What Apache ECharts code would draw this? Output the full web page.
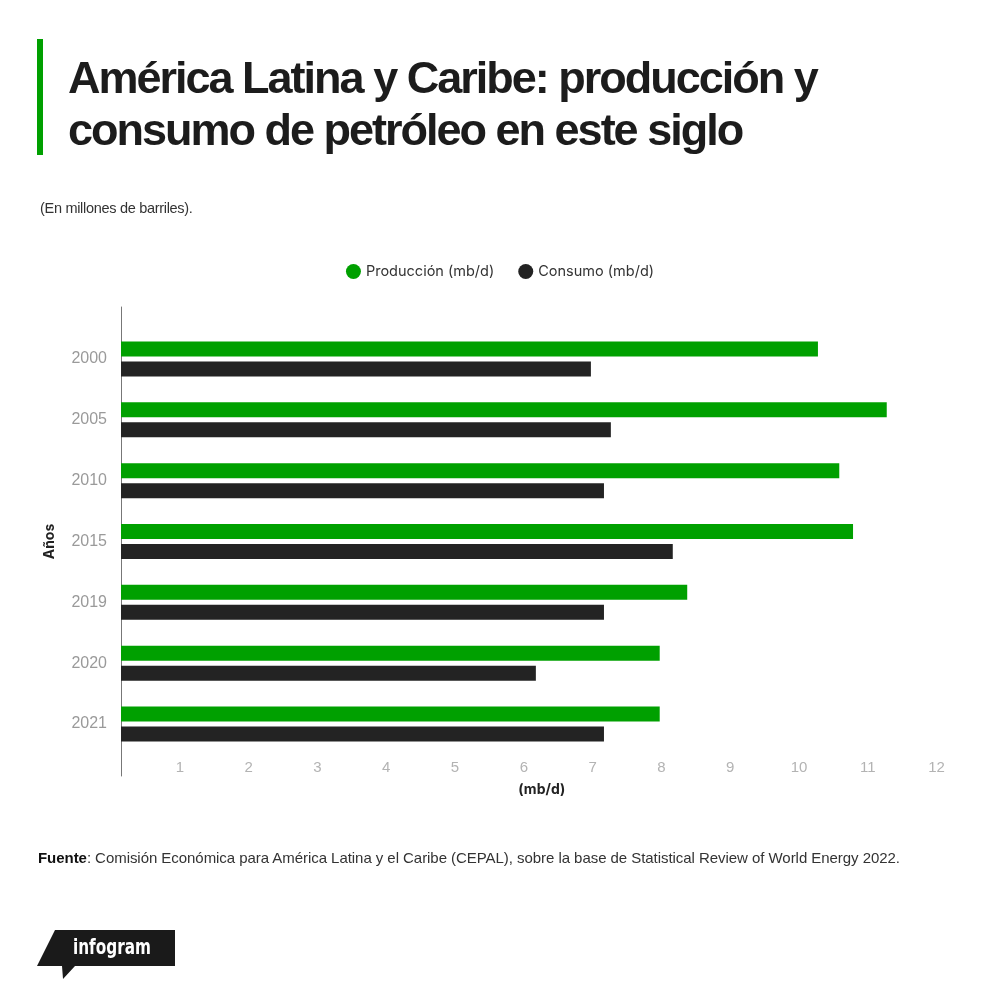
<!DOCTYPE html>
<html lang="es">
<head>
<meta charset="utf-8">
<title>América Latina y Caribe: producción y consumo de petróleo</title>
<script src="https://cdn.jsdelivr.net/npm/echarts@6/dist/echarts.min.js"></script>
<style>
    html, body { margin: 0; padding: 0; background: #fff; }
    .page { position: relative; width: 1000px; height: 1000px; overflow: hidden; }
    .echarts_main { position: absolute; left: 0; top: 0; width: 1000px; height: 1000px; }
    .accent { position: absolute; left: 37px; top: 39px; width: 6px; height: 116px; background: #00a000; }
    .chart_title { position: absolute; left: 68px; top: 52px; font-family: "Liberation Sans", Arial, sans-serif;
        font-weight: bold; font-size: 45px; line-height: 52px; letter-spacing: -2px; color: #1c1c1c; }
    .chart_desc { position: absolute; left: 40px; top: 200px; font-family: "Liberation Sans", Arial, sans-serif;
        font-size: 14.5px; letter-spacing: -0.3px; color: #333; }
    .chart_source { position: absolute; left: 38px; top: 849px; font-family: "Liberation Sans", Arial, sans-serif;
        font-size: 15px; letter-spacing: -0.05px; color: #333; }
    .chart_source b { color: #111; }
    .logo { position: absolute; left: 0; top: 0; }
</style>
</head>
<body>
<div class="page">
    <div class="echarts_main"></div>
    <div class="accent"></div>
    <div class="chart_title">América Latina y Caribe: producción y<br>consumo de petróleo en este siglo</div>
    <div class="chart_desc">(En millones de barriles).</div>
    <div class="chart_source"><b>Fuente</b>: Comisión Económica para América Latina y el Caribe (CEPAL), sobre la base de Statistical Review of World Energy 2022.</div>
    <svg class="logo" width="200" height="1000" viewBox="0 0 200 1000">
        <polygon points="55,930 175,930 175,966 75,966 63,979 62,966 37,966" fill="#1a1a1a"/>
        <text x="73" y="954" textLength="78" lengthAdjust="spacingAndGlyphs" fill="#fff" font-family="DejaVu Sans Condensed, DejaVu Sans" font-weight="bold" font-size="21">infogram</text>
    </svg>
</div>

<script type="text/javascript">
    let years = ['2000', '2005', '2010', '2015', '2019', '2020', '2021'];
    let produccion = [10.13, 11.13, 10.44, 10.64, 8.23, 7.83, 7.83];
    let consumo = [6.83, 7.12, 7.02, 8.02, 7.02, 6.03, 7.02];
    let legendNames = ['Producción (mb/d)', 'Consumo (mb/d)'];

    let Chart = echarts.init(document.getElementsByClassName('echarts_main')[0]);

    let option = {
        animation: false,
        legend: {
            top: 259,
            left: 'center',
            icon: 'circle',
            itemWidth: 15,
            itemHeight: 15,
            itemGap: 24,
            textStyle: { fontFamily: 'Inter', fontSize: 14.5, color: '#333' },
            data: legendNames
        },
        grid: [
            // main plot area
            { left: 121, right: 53.4, top: 328.6, bottom: 245.6 },
            // only used for the long left axis line
            { left: 121, right: 53.4, top: 307, bottom: 224 }
        ],
        xAxis: [{
            gridIndex: 0,
            type: 'value',
            min: 0,
            max: 12,
            interval: 1,
            name: '(mb/d)',
            nameLocation: 'middle',
            nameGap: 28,
            nameTextStyle: { fontFamily: 'Inter', fontWeight: 'bold', fontSize: 14, color: '#222', padding: [0, 0, 0, 16] },
            axisLine: { show: false },
            axisTick: { show: false },
            splitLine: { show: false },
            axisLabel: {
                showMinLabel: false,
                margin: 6,
                padding: [0, 20, 0, 0],
                fontFamily: 'Liberation Sans',
                fontSize: 15,
                color: '#b3b3b3'
            }
        }, {
            gridIndex: 1,
            type: 'value',
            show: false
        }],
        yAxis: [{
            gridIndex: 0,
            type: 'category',
            inverse: true,
            data: years,
            name: 'Años',
            nameLocation: 'middle',
            nameRotate: 90,
            nameGap: 64,
            nameTextStyle: { fontFamily: 'Inter', fontWeight: 'bold', fontSize: 14, color: '#222' },
            axisLine: { show: false },
            axisTick: { show: false },
            axisLabel: { margin: 14, fontFamily: 'Liberation Sans', fontSize: 16, color: '#9a9a9a', padding: [4, 0, 0, 0] }
        }, {
            gridIndex: 1,
            type: 'value',
            axisLine: { show: true, lineStyle: { color: '#777', width: 1 } },
            axisTick: { show: false },
            axisLabel: { show: false },
            splitLine: { show: false }
        }],
        series: [{
            name: legendNames[0],
            type: 'bar',
            xAxisIndex: 0,
            yAxisIndex: 0,
            barWidth: 15,
            barGap: '33%',
            data: produccion,
            itemStyle: { color: '#00a000' }
        }, {
            name: legendNames[1],
            type: 'bar',
            xAxisIndex: 0,
            yAxisIndex: 0,
            barWidth: 15,
            barGap: '33%',
            data: consumo,
            itemStyle: { color: '#232323' }
        }]
    };

    Chart.setOption(option);
</script>
</body>
</html>
